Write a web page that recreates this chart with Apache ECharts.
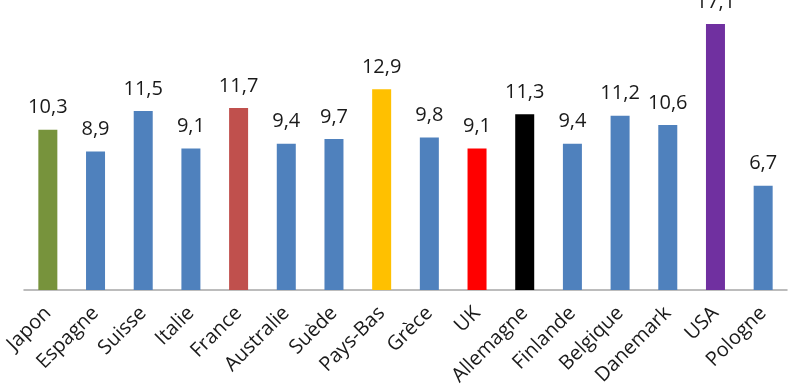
<!DOCTYPE html>
<html><head><meta charset="utf-8">
<script src="https://cdn.jsdelivr.net/npm/echarts@6/dist/echarts.min.js"></script>
<style>html,body{margin:0;padding:0;background:#fff}#c{width:795px;height:385px}</style>
</head><body><div id="c"></div>
<script>
const categories = ["Japon","Espagne","Suisse","Italie","France","Australie","Suède","Pays-Bas","Grèce","UK","Allemagne","Finlande","Belgique","Danemark","USA","Pologne"];
const values = [10.3,8.9,11.5,9.1,11.7,9.4,9.7,12.9,9.8,9.1,11.3,9.4,11.2,10.6,17.1,6.7];
const barColors = ["#77933C","#4F81BD","#4F81BD","#4F81BD","#C0504D","#4F81BD","#4F81BD","#FFC000","#4F81BD","#FF0000","#000000","#4F81BD","#4F81BD","#4F81BD","#7030A0","#4F81BD"];

const chart = echarts.init(document.getElementById('c'));
chart.setOption({
  animation:false,
  grid:{left:24,right:8,top:10,bottom:95,containLabel:false,outerBoundsMode:'none'},
  xAxis:{type:'category',data:categories,
    axisLine:{lineStyle:{color:'#A6A6A6',width:1.5}},
    axisTick:{show:false},
    axisLabel:{rotate:45,interval:0,fontFamily:'Open Sans',fontSize:20,color:'#1a1a1a',margin:20}},
  yAxis:{type:'value',min:0,max:18,show:false,splitLine:{show:false}},
  series:[{type:'bar',barWidth:19,
    data:values.map((v,i)=>({value:v,itemStyle:{color:barColors[i]}})),
    label:{show:true,position:'top',distance:12,fontFamily:'Open Sans',fontSize:20,color:'#1a1a1a',
      formatter:p=>String(p.value).replace('.',',')}}]
});
</script></body></html>
